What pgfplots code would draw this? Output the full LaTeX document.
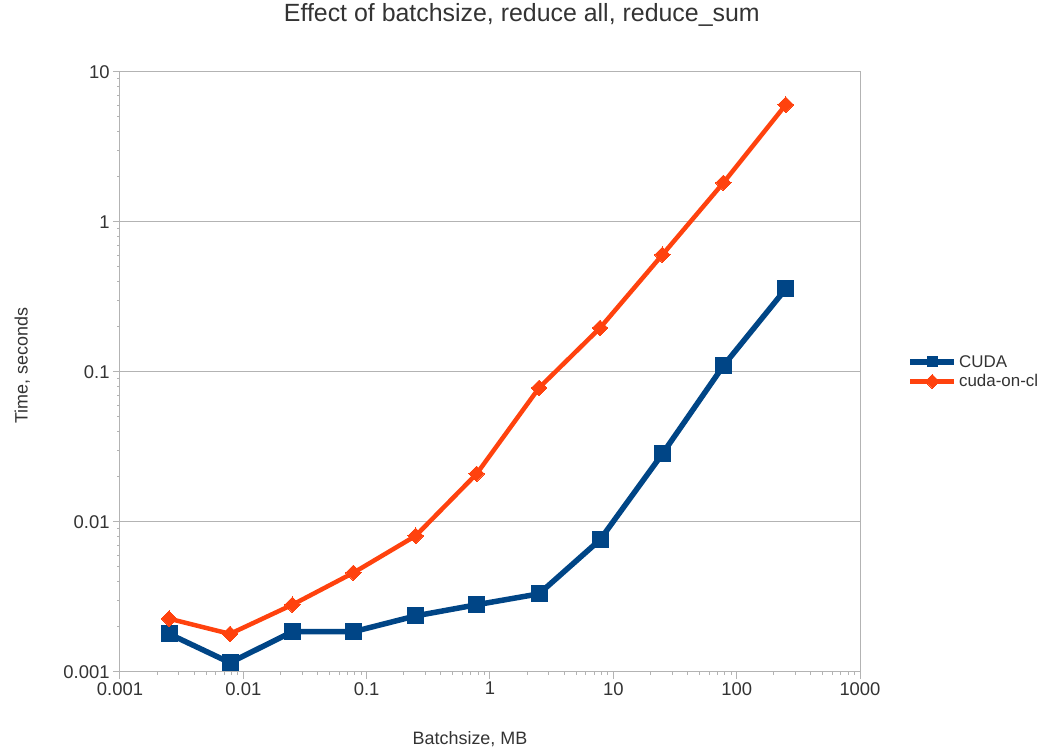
\documentclass[border=0pt]{standalone}
\usepackage{fontspec}
\setmainfont{Liberation Sans}
\usepackage{pgfplots}
\pgfplotsset{compat=1.18}
\definecolor{cudablue}{HTML}{004586}
\definecolor{cudaorange}{HTML}{FF420E}
\definecolor{gridgray}{HTML}{B3B3B3}
\definecolor{txt}{HTML}{333333}
\begin{document}
\begin{tikzpicture}
\begin{axis}[
  at={(0,0)}, anchor=south west,
  scale only axis, width=740bp, height=600bp,
  xmode=log, ymode=log,
  xmin=0.001, xmax=1000, ymin=0.001, ymax=10,
  xtick={0.001,0.01,0.1,1,10,100,1000},
  xticklabels={0.001,0.01,0.1,1,10,100,1000},
  ytick={0.001,0.01,0.1,1,10},
  yticklabels={0.001,0.01,0.1,1,10},
  minor xtick={}, minor ytick={},
  ymajorgrids, grid style={gridgray, line width=1bp},
  axis line style={gridgray, line width=1bp},
  tick style={gridgray, line width=1bp},
  tick align=outside, tick pos=left, major tick length=7bp,
  /pgf/number format/assume math mode=true,
  ticklabel style={font=\fontsize{18.5}{22}\selectfont, text=txt},
  title={Effect of batchsize, reduce all, reduce\_sum},
  title style={font=\fontsize{25}{29}\selectfont, text=txt, at={(0.543,1.085)}, anchor=center},
  xlabel={Batchsize, MB},
  xlabel style={font=\fontsize{18}{21}\selectfont, text=txt, at={(0.473,-0.112)}, anchor=center},
  ylabel={Time, seconds},
  ylabel style={font=\fontsize{18}{21}\selectfont, text=txt, at={(-0.132,0.51)}, anchor=center, rotate=0},
  legend style={at={(1.06,0.5)}, anchor=west, draw=none, fill=none,
    font=\fontsize{17}{20}\selectfont, text=txt, row sep=2bp},
  legend cell align=left,
  legend image code/.code={\draw[mark repeat=2,mark phase=2,#1,mark size=5bp] plot coordinates {(0bp,0bp) (22bp,0bp) (44bp,0bp)};},
]
\addplot[cudablue, line width=5.5bp, mark=square*, mark size=8bp, mark options={solid, line width=0pt}] coordinates {
(0.0025,0.00179) (0.0078,0.00115) (0.025,0.00185) (0.078,0.00185) (0.25,0.00236)
(0.78,0.0028) (2.5,0.00331) (7.8,0.00759) (25,0.0284) (78,0.1096) (250,0.357)
};
\addlegendentry{CUDA}
\addplot[cudaorange, line width=4.5bp, mark=square*, mark size=5.5bp, mark options={solid, line width=0pt, rotate=45}] coordinates {
(0.0025,0.00226) (0.0078,0.00179) (0.025,0.0028) (0.078,0.00457) (0.25,0.00807)
(0.78,0.0209) (2.5,0.0782) (7.8,0.196) (25,0.603) (78,1.82) (250,6.03)
};
\addlegendentry{cuda-on-cl}
\end{axis}
\path[use as bounding box] (-120bp,-76bp) rectangle (931bp,671bp);
\end{tikzpicture}
\end{document}
